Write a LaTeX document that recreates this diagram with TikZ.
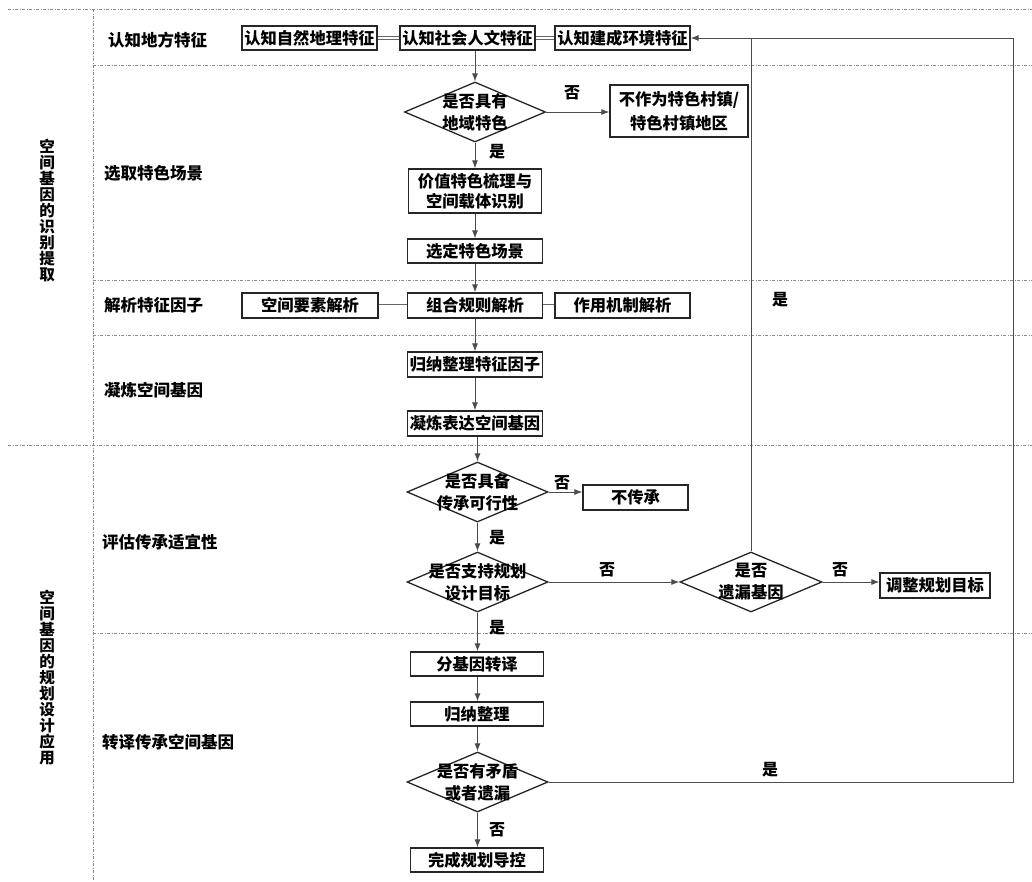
\documentclass[tikz,border=0pt]{standalone}
\usepackage{fontspec}
\setmainfont{Noto Sans CJK SC}
\usetikzlibrary{arrows.meta,shapes.geometric}
\begin{document}
\begin{tikzpicture}[x=1pt,y=-1pt]
\tikzset{
 box/.style={draw=black!85, line width=1.3pt, minimum height=25pt, inner sep=0pt, font=\bfseries\fontsize{16.3}{20}\selectfont, align=center},
 dia/.style={draw=black!85, line width=1.3pt, diamond, inner sep=0pt, minimum width=141pt, minimum height=60pt},
 dtxt/.style={font=\bfseries\fontsize{16.3}{22}\selectfont, align=center, inner sep=0pt},
 conn/.style={draw=black!70, line width=0.9pt, -{Latex[length=8pt,width=6pt]}},
 plain/.style={draw=black!70, line width=0.9pt},
 dbl/.style={draw=black!60, line width=0.6pt, double=white, double distance=2pt},
 sep/.style={draw=black!45, line width=0.6pt, dash pattern=on 3pt off 1.5pt on 1pt off 1.5pt},
 lab/.style={font=\bfseries\fontsize{16.5}{19}\selectfont, anchor=west, inner sep=0pt},
 vlab/.style={font=\bfseries\fontsize{15.5}{16}\selectfont, align=center, inner sep=0pt},
 yn/.style={font=\bfseries\fontsize{16}{18}\selectfont, inner sep=0pt},
}
\useasboundingbox (0,0) rectangle (1032,881);
\fill[white] (0,0) rectangle (1032,881);
% separators
\draw[sep] (8,9) -- (1032,9);
\draw[sep] (93,9) -- (93,881);
\draw[sep] (93,65) -- (1032,65);
\draw[sep] (93,280) -- (1032,280);
\draw[sep] (93,335) -- (1032,335);
\draw[sep] (8,445) -- (1032,445);
\draw[sep] (93,633) -- (1032,633);
% left vertical labels
\node[vlab] (va) at (47,211) {空\\间\\基\\因\\的\\识\\别\\提\\取};
\node[vlab] (vb) at (47,678) {空\\间\\基\\因\\的\\规\\划\\设\\计\\应\\用};
% section labels
\node[lab] (s1) at (108,40) {认知地方特征};
\node[lab] (s2) at (104,173) {选取特色场景};
\node[lab] (s3) at (104,305) {解析特征因子};
\node[lab] (s4) at (104,390) {凝炼空间基因};
\node[lab] (s5) at (102,542) {评估传承适宜性};
\node[lab] (s6) at (102,742) {转译传承空间基因};
% row 1
\node[box, minimum width=135pt, minimum height=24pt] (nat) at (309.5,38) {认知自然地理特征};
\node[box, minimum width=135pt, minimum height=24pt] (soc) at (467.5,38) {认知社会人文特征};
\node[box, minimum width=135pt, minimum height=24pt] (built) at (622.5,38) {认知建成环境特征};
\draw[dbl] (nat.east) -- (soc.west);
\draw[dbl] (soc.east) -- (built.west);
% diamond 1
\node[dia] (d1) at (475,112) {};
\node[dtxt] (d1t) at (d1) {是否具有\\地域特色};
\node[box, minimum width=138pt, minimum height=52pt, font=\bfseries\fontsize{16.3}{24}\selectfont] (nf) at (679,111) {不作为特色村镇/\\特色村镇地区};
\node[box, minimum width=133pt, minimum height=44pt] (val) at (475,191) {价值特色梳理与\\空间载体识别};
\node[box, minimum width=135pt, minimum height=24pt] (sel) at (475,251) {选定特色场景};
% row 解析
\node[box, minimum width=136pt] (spa) at (310,305.5) {空间要素解析};
\node[box, minimum width=135pt] (comb) at (475,305.5) {组合规则解析};
\node[box, minimum width=135pt] (mech) at (622.5,305.5) {作用机制解析};
\draw[dbl] (spa.east) -- (comb.west);
\draw[dbl] (comb.east) -- (mech.west);
\node[box, minimum width=135pt] (ind) at (475,364.5) {归纳整理特征因子};
\node[box, minimum width=135pt] (cond) at (475,423.5) {凝炼表达空间基因};
% lower part
\node[dia] (d2) at (477.5,492) {};
\node[dtxt] (d2t) at (d2) {是否具备\\传承可行性};
\node[box, minimum width=105pt] (noi) at (635.5,497.5) {不传承};
\node[dia] (d3) at (477.5,582) {};
\node[dtxt] (d3t) at (d3) {是否支持规划\\设计目标};
\node[dia, minimum width=142pt] (d4) at (751,582) {};
\node[dtxt] (d4t) at (d4) {是否\\遗漏基因};
\node[box, minimum width=110pt] (adj) at (935,585.5) {调整规划目标};
\node[box, minimum width=133pt, minimum height=24pt] (tr) at (477,664) {分基因转译};
\node[box, minimum width=133pt, minimum height=24pt] (sum) at (477,714) {归纳整理};
\node[dia] (d5) at (477.5,782) {};
\node[dtxt] (d5t) at (d5) {是否有矛盾\\或者遗漏};
\node[box, minimum width=133pt, minimum height=24pt] (fin) at (477,860) {完成规划导控};
% connectors
\draw[conn] (d1.north |- soc.south) -- (d1.north);
\draw[conn] (d1.east) -- (nf.west |- d1.east);
\draw[conn] (d1.south) -- (val.north);
\draw[conn] (val.south) -- (sel.north);
\draw[conn] (sel.south) -- (comb.north);
\draw[conn] (comb.south) -- (ind.north);
\draw[conn] (ind.south) -- (cond.north);
\draw[conn] (d2.north |- cond.south) -- (d2.north);
\draw[conn] (d2.east) -- (noi.west |- d2.east);
\draw[conn] (d2.south) -- (d3.north);
\draw[conn] (d3.east) -- (d4.west);
\draw[conn] (d4.east) -- (adj.west |- d4.east);
\draw[conn] (d3.south) -- (tr.north -| d3.south);
\draw[conn] (tr.south -| d3.south) -- (sum.north -| d3.south);
\draw[conn] (sum.south -| d5.north) -- (d5.north);
\draw[conn] (d5.south) -- (fin.north -| d5.south);
\coordinate (r1) at (1013,782);
\coordinate (r2) at (1013,38);
\coordinate (j) at (751,38);
\draw[conn] (d5.east) -- (r1) -- (r2) -- (built.east);
\draw[plain] (d4.north) -- (j);
% yes/no labels
\node[yn] (l1) at (572,93) {否};
\node[yn] (l2) at (497,152) {是};
\node[yn] (l3) at (562,483) {否};
\node[yn] (l4) at (497,538) {是};
\node[yn] (l5) at (607,570) {否};
\node[yn] (l6) at (840,570) {否};
\node[yn] (l7) at (497,628) {是};
\node[yn] (l8) at (780,300) {是};
\node[yn] (l9) at (770,770) {是};
\node[yn] (l10) at (497,830) {否};
\end{tikzpicture}
\end{document}
